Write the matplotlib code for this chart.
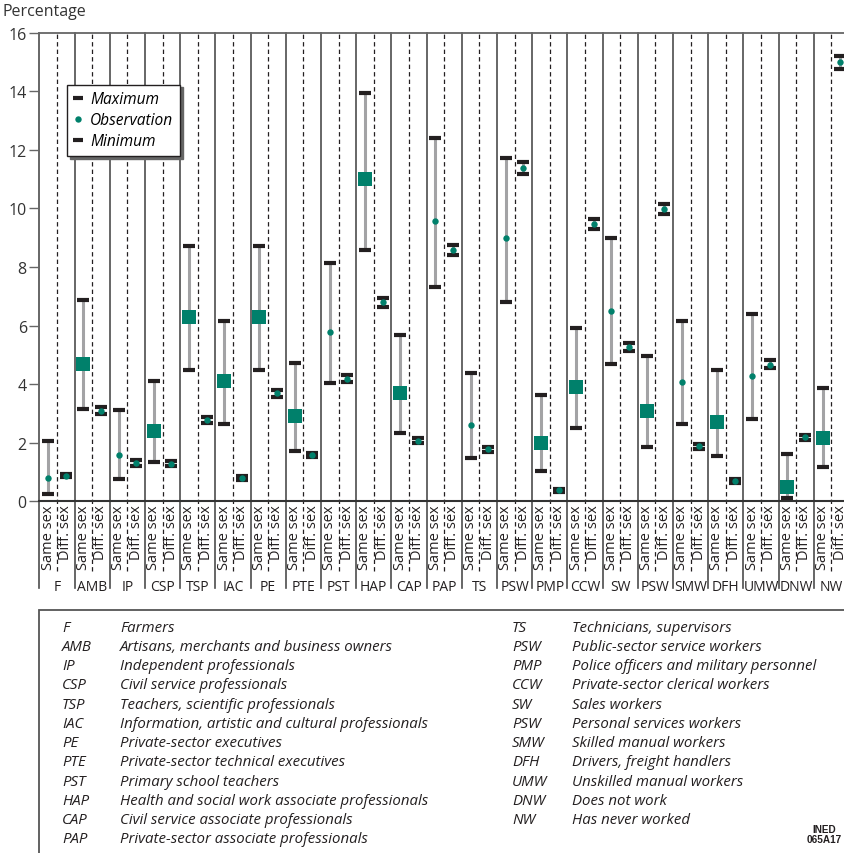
import matplotlib
matplotlib.use('Agg')
import matplotlib.pyplot as plt
import matplotlib.transforms as mtransforms
from matplotlib.lines import Line2D
from matplotlib.patches import Rectangle

plt.rcParams['font.family'] = ['Open Sans', 'DejaVu Sans']

# ---------------- data ----------------
groups = ['F', 'AMB', 'IP', 'CSP', 'TSP', 'IAC', 'PE', 'PTE', 'PST', 'HAP', 'CAP', 'PAP',
          'TS', 'PSW', 'PMP', 'CCW', 'SW', 'PSW', 'SMW', 'DFH', 'UMW', 'DNW', 'NW']
column_labels = ['Same sex', 'Diff. sex']

same_max = [2.06, 6.87, 3.12, 4.11, 8.72, 6.16, 8.72, 4.72, 8.14, 13.94, 5.68, 12.40,
            4.38, 11.72, 3.63, 5.92, 8.99, 4.96, 6.16, 4.48, 6.39, 1.61, 3.87]
same_obs = [0.78, 4.68, 1.59, 2.39, 6.28, 4.10, 6.28, 2.90, 5.78, 10.99, 3.69, 9.58,
            2.59, 8.99, 1.98, 3.89, 6.50, 3.07, 4.08, 2.70, 4.28, 0.48, 2.17]
same_min = [0.25, 3.15, 0.76, 1.34, 4.49, 2.64, 4.49, 1.72, 4.04, 8.58, 2.33, 7.33,
            1.48, 6.80, 1.03, 2.51, 4.69, 1.85, 2.64, 1.55, 2.81, 0.11, 1.17]
same_significant = [False, True, False, True, True, True, True, True, False, True, True, False,
                    False, False, True, True, False, True, False, True, False, True, True]

diff_max = [0.94, 3.22, 1.40, 1.37, 2.89, 0.85, 3.81, 1.65, 4.31, 6.94, 2.17, 8.75,
            1.86, 11.58, 0.42, 9.64, 5.42, 10.15, 1.97, 0.75, 4.82, 2.27, 15.20]
diff_obs = [0.87, 3.07, 1.31, 1.28, 2.79, 0.78, 3.69, 1.58, 4.19, 6.79, 2.06, 8.58,
            1.79, 11.39, 0.37, 9.48, 5.26, 9.97, 1.90, 0.68, 4.66, 2.18, 14.99]
diff_min = [0.83, 2.98, 1.22, 1.20, 2.67, 0.72, 3.56, 1.52, 4.08, 6.64, 1.99, 8.41,
            1.67, 11.17, 0.32, 9.30, 5.13, 9.81, 1.79, 0.62, 4.55, 2.08, 14.76]

y_ticks = [0, 2, 4, 6, 8, 10, 12, 14, 16]

abbr_left = ['F', 'AMB', 'IP', 'CSP', 'TSP', 'IAC', 'PE', 'PTE', 'PST', 'HAP', 'CAP', 'PAP']
desc_left = ['Farmers',
             'Artisans, merchants and business owners',
             'Independent professionals',
             'Civil service professionals',
             'Teachers, scientific professionals',
             'Information, artistic and cultural professionals',
             'Private-sector executives',
             'Private-sector technical executives',
             'Primary school teachers',
             'Health and social work associate professionals',
             'Civil service associate professionals',
             'Private-sector associate professionals']
abbr_right = ['TS', 'PSW', 'PMP', 'CCW', 'SW', 'PSW', 'SMW', 'DFH', 'UMW', 'DNW', 'NW']
desc_right = ['Technicians, supervisors',
              'Public-sector service workers',
              'Police officers and military personnel',
              'Private-sector clerical workers',
              'Sales workers',
              'Personal services workers',
              'Skilled manual workers',
              'Drivers, freight handlers',
              'Unskilled manual workers',
              'Does not work',
              'Has never worked']

# ---------------- style ----------------
TEAL = '#00806b'
BLACK = '#231f20'
GRAY = '#a3a3a5'
LINE = '#4d4d4d'

W, H = 845, 854
fig = plt.figure(figsize=(W / 100, H / 100), dpi=100)

ax_left, ax_right, ax_top, ax_bottom = 39.3, 849.0, 33.7, 502.3
ax = fig.add_axes([ax_left / W, 1 - ax_bottom / H, (ax_right - ax_left) / W, (ax_bottom - ax_top) / H])
n = len(groups)
ax.set_xlim(0, 2 * n)
ax.set_ylim(0, 16)

blend = mtransforms.blended_transform_factory(ax.transData, ax.transAxes)

# grid of separators
for i in range(n + 1):
    ax.add_line(Line2D([2 * i, 2 * i], [-0.185, 1], transform=blend, color=LINE,
                       lw=1.2, clip_on=False, zorder=1))
for i in range(n):
    ax.add_line(Line2D([2 * i + 1, 2 * i + 1], [-0.148, 1], transform=blend, color=BLACK,
                       lw=0.9, ls=(0, (3.5, 2.5)), clip_on=False, zorder=1))

xs = [2 * i + 0.5 for i in range(n)]
xd = [2 * i + 1.5 for i in range(n)]

cap_kw = dict(ls='none', marker='_', ms=8, mew=3, color=BLACK, zorder=3)

# same-sex
ax.vlines(xs, same_min, same_max, color=GRAY, lw=2.2, zorder=2)
ax.plot(xs, same_max, **cap_kw)
ax.plot(xs, same_min, **cap_kw)
for x, y, sig in zip(xs, same_obs, same_significant):
    if sig:
        ax.plot([x], [y], ls='none', marker='s', ms=9.4, color=TEAL, mew=0, zorder=4)
    else:
        ax.plot([x], [y], ls='none', marker='o', ms=4.6, color=TEAL, mew=0, zorder=4)

# different-sex
ax.vlines(xd, diff_min, diff_max, color=GRAY, lw=2.2, zorder=2)
ax.plot(xd, diff_max, **cap_kw)
ax.plot(xd, diff_min, **cap_kw)
ax.plot(xd, diff_obs, ls='none', marker='o', ms=4.6, color=TEAL, mew=0, zorder=4)

# axes styling
for s in ['left', 'right']:
    ax.spines[s].set_visible(False)
ax.spines['top'].set_color('#666666')
ax.spines['top'].set_linewidth(1.3)
ax.spines['bottom'].set_color('#333333')
ax.spines['bottom'].set_linewidth(1.5)
ax.set_xticks([])
ax.set_yticks(y_ticks)
ax.tick_params(axis='y', length=7, width=1, color='#666666', labelsize=11.5, pad=2,
               labelcolor='#333333')

# column labels
for i in range(n):
    for j, lab in enumerate(column_labels):
        ax.text(2 * i + 0.5 + j, -0.006, lab, transform=blend, rotation=90,
                ha='center', va='top', fontsize=10.5, color='#231f20')
    ax.text(2 * i + 1, -0.181, groups[i], transform=blend, ha='center', va='center',
            fontsize=10, color='#231f20')

fig.text(2 / W, 1 - 12 / H, 'Percentage', ha='left', va='center', fontsize=11.5, color='#333333')

# legend
handles = [Line2D([], [], ls='none', marker='_', ms=7, mew=3, color=BLACK),
           Line2D([], [], ls='none', marker='o', ms=4.6, color=TEAL, mew=0),
           Line2D([], [], ls='none', marker='_', ms=7, mew=3, color=BLACK)]
leg = ax.legend(handles, ['Maximum', 'Observation', 'Minimum'],
                loc='upper left',
                bbox_to_anchor=((67.3 - ax_left) / (ax_right - ax_left),
                                1 - (85.7 - ax_top) / (ax_bottom - ax_top)),
                borderaxespad=0, frameon=True, fancybox=False,
                shadow={'color': '#666666', 'alpha': 1, 'ox': 2, 'oy': -2},
                prop={'style': 'italic', 'size': 11.2}, handlelength=0.6, handletextpad=0.45,
                labelspacing=0.32, borderpad=0.42)
leg.get_frame().set_edgecolor(BLACK)
leg.get_frame().set_linewidth(1.0)
leg.set_zorder(10)

# description box
fig.patches.append(Rectangle((38.7 / W, -0.05), 1.0, (H - 610.7) / H + 0.05, transform=fig.transFigure,
                             fill=False, edgecolor='#555555', lw=1.3))

row0, step = 628, 19.27
for k, (a, d) in enumerate(zip(abbr_left, desc_left)):
    y = 1 - (row0 + k * step) / H
    fig.text(62 / W, y, a, ha='left', va='center', fontsize=10.8, style='italic', color='#231f20')
    fig.text(120 / W, y, d, ha='left', va='center', fontsize=10.8, style='italic', color='#231f20')
for k, (a, d) in enumerate(zip(abbr_right, desc_right)):
    y = 1 - (row0 + k * step) / H
    fig.text(512 / W, y, a, ha='left', va='center', fontsize=10.8, style='italic', color='#231f20')
    fig.text(572 / W, y, d, ha='left', va='center', fontsize=10.8, style='italic', color='#231f20')

fig.text(824 / W, 1 - 835 / H, 'INED\n065A17', ha='center', va='center', fontsize=7.2,
         fontweight='bold', family=['Liberation Sans Narrow', 'Liberation Sans'], linespacing=1.0,
         color='#231f20')

fig.savefig('out.png', dpi=100)
